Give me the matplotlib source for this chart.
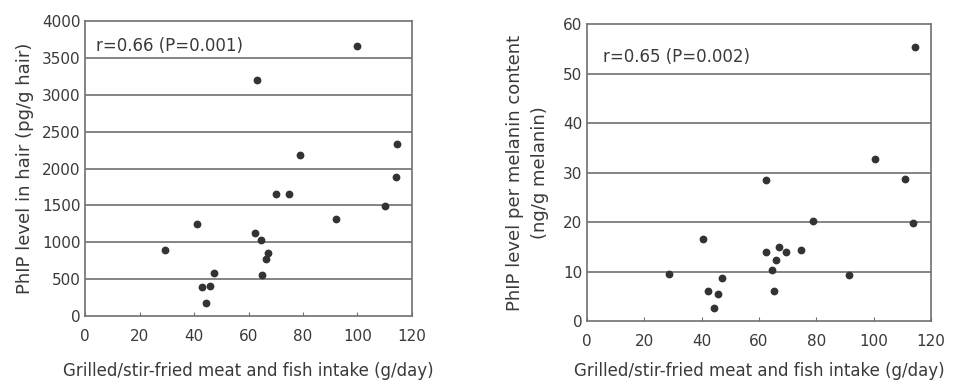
import matplotlib.pyplot as plt

# Intake (g/day) and PhIP levels
intake_hair = [100, 63, 114.5, 79, 114, 70, 75, 110, 92, 41, 62.5, 64.5,
               29.5, 67, 66.5, 47.5, 65, 43, 46, 44.5]
phip_hair = [3660, 3200, 2330, 2180, 1890, 1650, 1650, 1490, 1320, 1250,
             1130, 1030, 900, 860, 780, 580, 550, 400, 410, 170]

intake_mel = [114.5, 100.4, 62.4, 110.9, 78.8, 113.8, 40.4, 67.1, 74.5, 62.4,
              69.6, 66, 64.5, 28.8, 91.4, 47.2, 42.4, 45.8, 65.3, 44.2]
phip_mel = [55.3, 32.7, 28.5, 28.7, 20.2, 19.8, 16.5, 15.0, 14.4, 13.9,
            13.9, 12.4, 10.4, 9.6, 9.4, 8.6, 6.1, 5.5, 6.1, 2.6]

x_ticks = [0, 20, 40, 60, 80, 100, 120]
hair_ticks = [0, 500, 1000, 1500, 2000, 2500, 3000, 3500, 4000]
mel_ticks = [0, 10, 20, 30, 40, 50, 60]

xlabel = 'Grilled/stir-fried meat and fish intake (g/day)'
ink = '#3a3a3a'
line = '#707070'

fig = plt.figure(figsize=(9.73, 3.84), dpi=100)
ax1 = fig.add_axes([0.0874, 0.177, 0.336, 0.768])
ax2 = fig.add_axes([0.603, 0.164, 0.354, 0.773])


def style(ax, yticks, ymax):
    ax.set_xlim(0, 120)
    ax.set_ylim(0, ymax)
    ax.set_xticks(x_ticks)
    ax.set_yticks(yticks)
    for y in yticks[1:-1]:
        ax.axhline(y, color=line, lw=1.2, zorder=1)
    for s in ax.spines.values():
        s.set_color(line)
        s.set_linewidth(1.2)
    ax.tick_params(axis='x', direction='in', length=3, color=line,
                   labelsize=11, labelcolor=ink, pad=9)
    ax.tick_params(axis='y', length=0, labelsize=11, labelcolor=ink, pad=3)


style(ax1, hair_ticks, 4000)
style(ax2, mel_ticks, 60)

ax1.plot(intake_hair, phip_hair, 'o', ms=4.6, color='#333333', zorder=3)
ax2.plot(intake_mel, phip_mel, 'o', ms=4.6, color='#333333', zorder=3)

ax1.text(0.035, 0.915, 'r=0.66 (P=0.001)', transform=ax1.transAxes,
         fontsize=12, color=ink, va='center')
ax2.text(0.047, 0.89, 'r=0.65 (P=0.002)', transform=ax2.transAxes,
         fontsize=12, color=ink, va='center')

ax1.set_xlabel(xlabel, fontsize=12, color=ink, labelpad=13)
ax2.set_xlabel(xlabel, fontsize=12, color=ink, labelpad=10)
ax1.set_ylabel('PhIP level in hair (pg/g hair)', fontsize=13, color=ink,
               labelpad=6)
ax2.set_ylabel('PhIP level per melanin content\n(ng/g melanin)', fontsize=13,
               color=ink, labelpad=10, linespacing=1.5)

fig.savefig('out.png', dpi=100)
